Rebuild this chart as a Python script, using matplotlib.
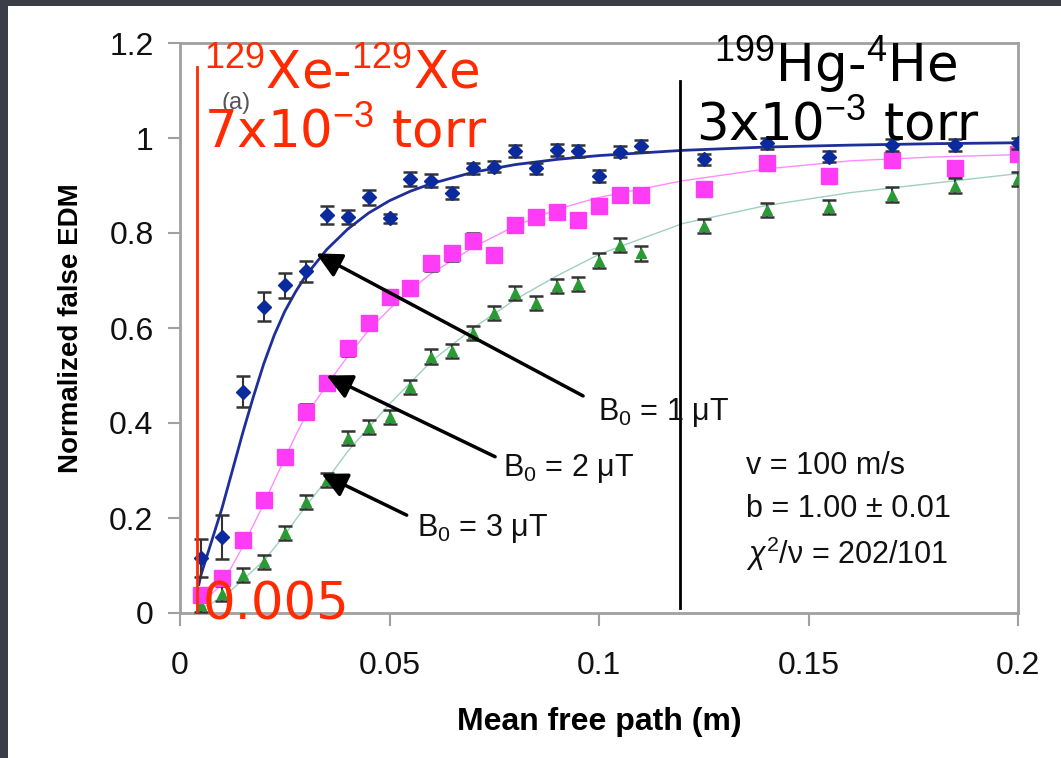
import matplotlib
matplotlib.use('Agg')
import matplotlib.pyplot as plt
from matplotlib.patches import Rectangle

plt.rcParams['font.family'] = ['Liberation Sans', 'DejaVu Sans']
plt.rcParams['mathtext.fontset'] = 'custom'
plt.rcParams['mathtext.rm'] = 'Liberation Sans'
plt.rcParams['mathtext.it'] = 'Liberation Sans:italic'
plt.rcParams['mathtext.bf'] = 'Liberation Sans:bold'

# ---------------- data ----------------
mean_free_path = [0.005, 0.01, 0.015, 0.02, 0.025, 0.03, 0.035, 0.04, 0.045, 0.05,
                  0.055, 0.06, 0.065, 0.07, 0.075, 0.08, 0.085, 0.09, 0.095, 0.1,
                  0.105, 0.11, 0.125, 0.14, 0.155, 0.17, 0.185, 0.2]

edm_b1 = [0.115, 0.16, 0.466, 0.645, 0.69, 0.719, 0.838, 0.833, 0.875, 0.831,
          0.913, 0.910, 0.884, 0.936, 0.940, 0.973, 0.936, 0.975, 0.973, 0.920,
          0.971, 0.983, 0.955, 0.989, 0.961, 0.985, 0.985, 0.989]
err_b1 = [0.04, 0.047, 0.033, 0.03, 0.026, 0.023, 0.019, 0.015, 0.016, 0.01,
          0.015, 0.014, 0.012, 0.012, 0.012, 0.012, 0.012, 0.012, 0.012, 0.012,
          0.012, 0.012, 0.012, 0.012, 0.012, 0.012, 0.012, 0.012]

edm_b2 = [0.038, 0.073, 0.154, 0.238, 0.329, 0.424, 0.484, 0.557, 0.610, 0.666,
          0.684, 0.736, 0.757, 0.784, 0.754, 0.817, 0.834, 0.845, 0.827, 0.857,
          0.880, 0.880, 0.892, 0.947, 0.920, 0.954, 0.936, 0.966]
err_b2 = [0.015] * 28

edm_b3 = [0.017, 0.041, 0.080, 0.108, 0.168, 0.234, 0.280, 0.368, 0.392, 0.412,
          0.476, 0.540, 0.552, 0.589, 0.631, 0.674, 0.653, 0.688, 0.692, 0.742,
          0.775, 0.757, 0.815, 0.848, 0.855, 0.881, 0.900, 0.914]
err_b3 = [0.015] * 28

fit_x = [0.0045, 0.005, 0.0075, 0.01, 0.0125, 0.015, 0.0175, 0.02, 0.0225, 0.025,
         0.0275, 0.03, 0.035, 0.04, 0.045, 0.05, 0.055, 0.06, 0.07, 0.08,
         0.09, 0.1, 0.12, 0.14, 0.16, 0.18, 0.2]
fit_b1 = [0.06, 0.08, 0.15, 0.22, 0.30, 0.38, 0.455, 0.525, 0.585, 0.635,
          0.675, 0.71, 0.765, 0.808, 0.842, 0.868, 0.888, 0.904, 0.928, 0.944,
          0.955, 0.963, 0.974, 0.981, 0.985, 0.988, 0.99]
fit_b2 = [0.02, 0.028, 0.04, 0.06, 0.10, 0.14, 0.185, 0.23, 0.278, 0.325,
          0.372, 0.415, 0.48, 0.54, 0.595, 0.64, 0.68, 0.715, 0.77, 0.815,
          0.85, 0.875, 0.91, 0.935, 0.952, 0.96, 0.965]
fit_b3 = [0.005, 0.01, 0.02, 0.035, 0.05, 0.07, 0.09, 0.11, 0.137, 0.165,
          0.195, 0.225, 0.28, 0.34, 0.39, 0.44, 0.485, 0.53, 0.60, 0.66,
          0.71, 0.755, 0.82, 0.858, 0.885, 0.905, 0.925]

x_ticks = [0, 0.05, 0.1, 0.15, 0.2]
x_tick_labels = ['0', '0.05', '0.1', '0.15', '0.2']
y_ticks = [0, 0.2, 0.4, 0.6, 0.8, 1.0, 1.2]
y_tick_labels = ['0', '0.2', '0.4', '0.6', '0.8', '1', '1.2']

# arrows: (tip x, tip y, tail x, tail y)
arrow_b1 = (0.0325, 0.757, 0.0962, 0.457)
arrow_b2 = (0.0350, 0.500, 0.0752, 0.329)
arrow_b3 = (0.0338, 0.293, 0.0541, 0.206)

xe_line_x = 0.004
hg_line_x = 0.1193

# ---------------- figure ----------------
W, H = 1061, 758
fig = plt.figure(figsize=(W / 100, H / 100), dpi=100, facecolor='#3b3e46')


def px(x, y):
    return (x / W, 1 - y / H)


fig.patches.append(Rectangle(px(8, 758), (W - 8) / W, (758 - 6) / H,
                             transform=fig.transFigure, facecolor='white',
                             edgecolor='none', zorder=-5))

ax = fig.add_axes([180 / W, 1 - 613 / H, (1018 - 180) / W, (613 - 43) / H])
ax.set_zorder(1)
ax.set_facecolor('white')
ax.set_xlim(0, 0.2)
ax.set_ylim(0, 1.2)

for s in ax.spines.values():
    s.set_color('#a0a0a0')
    s.set_linewidth(2)

ax.set_xticks(x_ticks)
ax.set_xticklabels(x_tick_labels)
ax.set_yticks(y_ticks)
ax.set_yticklabels(y_tick_labels)
ax.tick_params(axis='x', direction='out', length=9, width=1.5, color='#a0a0a0',
               labelsize=23, pad=18, labelcolor='#111111')
ax.tick_params(axis='y', direction='out', length=9, width=1.5, color='#a0a0a0',
               labelsize=23, pad=10, labelcolor='#111111')

ax.set_xlabel('Mean free path (m)', fontsize=23, fontweight='bold', labelpad=19)
ax.set_ylabel('Normalized false EDM', fontsize=20, fontweight='bold', labelpad=18)

# fit curves
ax.plot(fit_x, fit_b3, color='#9fd0c0', lw=1.0, zorder=2)
ax.plot(fit_x, fit_b2, color='#ff8cff', lw=1.0, zorder=2)
ax.plot(fit_x, fit_b1, color='#1f2f9a', lw=2.0, zorder=3)

# data
ax.errorbar(mean_free_path, edm_b3, yerr=err_b3, fmt='^', color='#2a9a35',
            markersize=7, ecolor='#333333', elinewidth=1.5, capsize=5,
            capthick=1.8, zorder=4)
ax.errorbar(mean_free_path, edm_b2, yerr=err_b2, fmt='s', color='#ff3cf5',
            markersize=11, ecolor='#333333', elinewidth=1.5, capsize=5,
            capthick=1.8, zorder=4)
ax.errorbar(mean_free_path, edm_b1, yerr=err_b1, fmt='D', color='#0a2a9e',
            markersize=7, ecolor='#333333', elinewidth=1.5, capsize=5,
            capthick=1.8, zorder=5)

# arrows
for (tx, ty, sx, sy) in (arrow_b1, arrow_b2, arrow_b3):
    ax.annotate('', xy=(tx, ty), xytext=(sx, sy),
                arrowprops=dict(arrowstyle='-|>,head_length=0.9,head_width=0.45',
                                color='black', lw=2.5, shrinkA=0, shrinkB=0,
                                mutation_scale=17), zorder=6)

ax.text(0.05, 0.895, '(a)', transform=ax.transAxes, fontsize=17,
        color='#555555', va='center', ha='left', zorder=1)

fig.text(*px(598, 420), r'B$_{\mathrm{0}}$ = 1 μT', fontsize=22, va='baseline',
         color='#111111', zorder=5)
fig.text(*px(503, 476), r'B$_{\mathrm{0}}$ = 2 μT', fontsize=22, va='baseline',
         color='#111111', zorder=5)
fig.text(*px(417, 536), r'B$_{\mathrm{0}}$ = 3 μT', fontsize=22, va='baseline',
         color='#111111', zorder=5)

fig.text(*px(746, 474), 'v = 100 m/s', fontsize=22, va='baseline', color='#111111', zorder=5)
fig.text(*px(746, 517), 'b = 1.00 ± 0.01', fontsize=22, va='baseline', color='#111111', zorder=5)
fig.text(*px(746, 564), r'$\chi^{\mathrm{2}}$/ν = 202/101', fontsize=22, va='baseline',
         color='#111111', zorder=5)

# vertical marker lines
ax.plot([xe_line_x, xe_line_x], [0, 1.15], color='#ff2a00', lw=2, zorder=7)
ax.plot([hg_line_x, hg_line_x], [0.01, 1.12], color='black', lw=2, zorder=7)

# overlay annotations
red = '#ff2a00'
fig.text(*px(204, 88), r'$^{\mathrm{129}}$Xe-$^{\mathrm{129}}$Xe', fontsize=37, color=red,
         va='baseline', family='DejaVu Sans', zorder=10)
fig.text(*px(204, 147), r'7x10$^{\mathrm{-3}}$ torr', fontsize=37, color=red, va='baseline',
         family='DejaVu Sans', zorder=10)
fig.text(*px(203, 620), '0.005', fontsize=37, color=red, va='baseline',
         family='DejaVu Sans', zorder=10)
fig.text(*px(714, 82), r'$^{\mathrm{199}}$Hg-$^{\mathrm{4}}$He', fontsize=37, color='black',
         va='baseline', family='DejaVu Sans', zorder=10)
fig.text(*px(696, 140), r'3x10$^{\mathrm{-3}}$ torr', fontsize=37, color='black',
         va='baseline', family='DejaVu Sans', zorder=10)

fig.savefig('out.png', dpi=100, facecolor=fig.get_facecolor())
